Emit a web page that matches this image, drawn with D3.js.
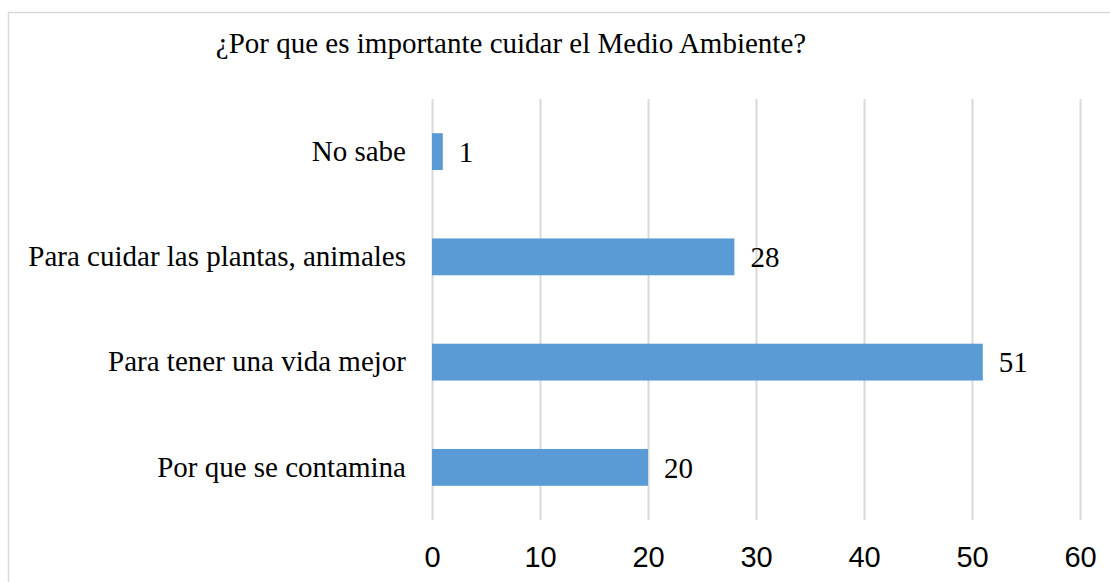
<!DOCTYPE html>
<html>
<head>
<meta charset="utf-8">
<script src="https://cdn.jsdelivr.net/npm/d3@7"></script>
<style>
  body { margin: 0; background: #fff; }
  .grid line { stroke: #d9d9d9; stroke-width: 2; }
  .grid path { display: none; }
</style>
</head>
<body>
<svg width="1110" height="582"></svg>
<script>
var categories = ["No sabe", "Para cuidar las plantas, animales", "Para tener una vida mejor", "Por que se contamina"];
var values = [1, 28, 51, 20];
var ticks = [0, 10, 20, 30, 40, 50, 60];
var title = "¿Por que es importante cuidar el Medio Ambiente?";

var svg = d3.select("svg"),
    margin = {top: 99, right: 30, bottom: 62, left: 432},
    width = +svg.attr("width") - margin.left - margin.right,
    height = +svg.attr("height") - margin.top - margin.bottom;

// chart border
svg.append("rect")
    .attr("x", 8.5).attr("y", 12.5)
    .attr("width", 1110).attr("height", 600)
    .attr("fill", "none")
    .attr("stroke", "#d9d9d9")
    .attr("stroke-width", 1.5);

svg.append("text")
    .attr("x", 511).attr("y", 53)
    .attr("text-anchor", "middle")
    .style("font-family", "'Liberation Serif', 'Times New Roman', serif")
    .style("font-size", "29px")
    .text(title);

var x = d3.scaleLinear().domain([0, 60]).range([0, 648]);
var y = d3.scaleBand().domain(categories).range([0, 421]).paddingInner(0.65).paddingOuter(0.325);

var g = svg.append("g")
    .attr("transform", "translate(" + margin.left + "," + margin.top + ")");

g.append("g")
    .attr("class", "grid")
    .call(d3.axisBottom(x).tickValues(ticks).tickSize(421).tickFormat(""));

g.append("g")
    .attr("transform", "translate(0,421)")
    .call(d3.axisBottom(x).tickValues(ticks).tickSize(0).tickPadding(26))
    .call(function (a) { a.select(".domain").remove(); })
    .selectAll("text")
    .style("font-family", "'Liberation Sans', Arial, sans-serif")
    .style("font-size", "29px")
    .attr("fill", "#000");

g.append("g")
    .call(d3.axisLeft(y).tickSize(0).tickPadding(26))
    .call(function (a) { a.select(".domain").remove(); })
    .selectAll("text")
    .style("font-family", "'Liberation Serif', 'Times New Roman', serif")
    .style("font-size", "29px")
    .attr("fill", "#000");

var data = categories.map(function (c, i) { return {name: c, value: values[i]}; });

g.selectAll(".bar")
    .data(data)
    .enter().append("rect")
    .attr("class", "bar")
    .attr("x", 0)
    .attr("y", function (d) { return y(d.name); })
    .attr("height", y.bandwidth())
    .attr("width", function (d) { return x(d.value); })
    .attr("fill", "#5b9bd5");

g.selectAll(".label")
    .data(data)
    .enter().append("text")
    .attr("class", "label")
    .attr("x", function (d) { return x(d.value) + 16; })
    .attr("y", function (d) { return y(d.name) + y.bandwidth() / 2; })
    .attr("dy", "0.35em")
    .style("font-family", "'Liberation Serif', 'Times New Roman', serif")
    .style("font-size", "29px")
    .text(function (d) { return d.value; });
</script>
</body>
</html>
